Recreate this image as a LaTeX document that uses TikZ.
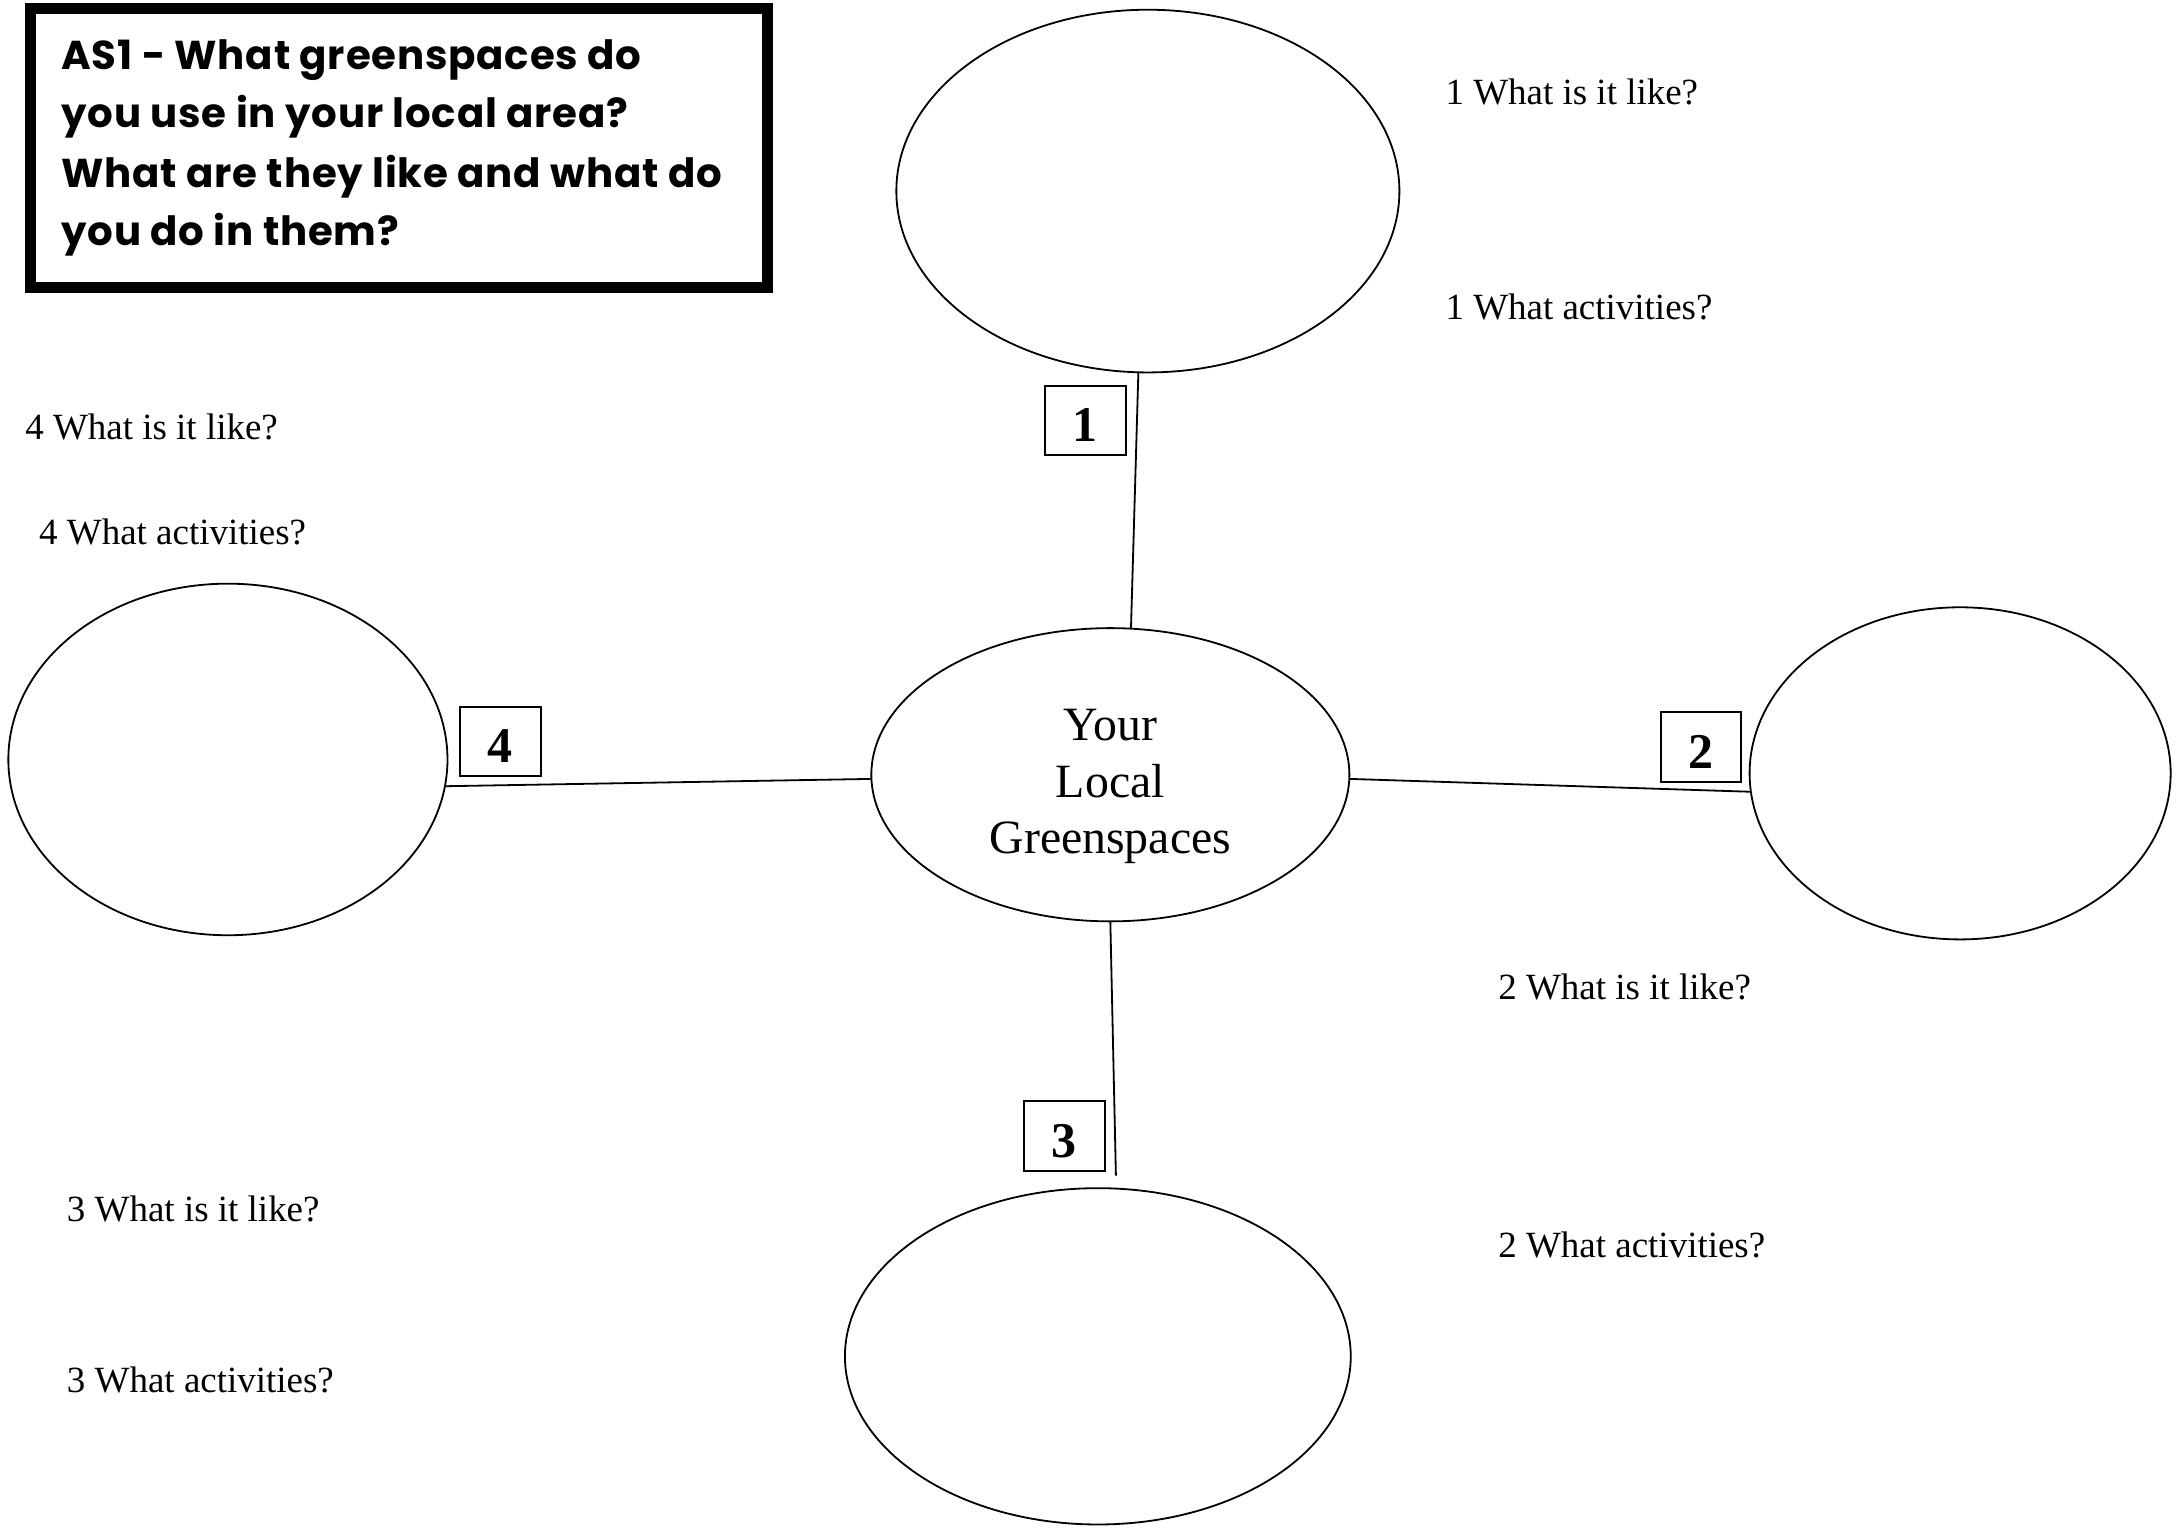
\documentclass[tikz,border=0pt]{standalone}
\usepackage{fontspec}
\setmainfont{Liberation Serif}
\newfontfamily\titlefont{Poppins}[LetterSpace=2]
\usetikzlibrary{shapes.geometric,calc}

\tikzset{
  space/.style={draw, ellipse, line width=1.3pt, inner sep=0pt},
  numbox/.style={draw, line width=1.5pt, minimum width=58pt, minimum height=50pt,
    inner sep=0pt, text height=31pt, text depth=0pt,
    font=\fontsize{36}{40}\selectfont\bfseries},
  prompt/.style={anchor=base west, inner sep=0pt, font=\fontsize{26.6}{30}\selectfont},
  titleline/.style={anchor=base west, inner sep=0pt, font=\titlefont\bfseries\fontsize{29}{33}\selectfont},
  link/.style={line width=1.3pt}
}

\begin{document}
\begin{tikzpicture}[x=1pt,y=-1pt]
\useasboundingbox[fill=white] (0,0) rectangle (1568,1099);

% heading panel
\draw[line width=8pt] (22,6) rectangle (552,207);
\node[titleline] (h1) at (44,50) {AS1 - What greenspaces do};
\node[titleline] (h2) at (44,92) {you use in your local area?};
\node[titleline] (h3) at (44,135) {What are they like and what do};
\node[titleline] (h4) at (44,177) {you do in them?};

% the hub and the four greenspaces
\node[space, minimum width=344pt, minimum height=211pt] (hub) at (799,557.5) {};
\node[align=center, inner sep=0pt, font=\fontsize{34.4}{40.5}\selectfont] (hublabel) at (799,566) {Your\\Local\\Greenspaces};
\node[space, minimum width=362pt, minimum height=261pt] (g1) at (826,137.5) {};
\node[space, minimum width=303pt, minimum height=239pt] (g2) at (1410.5,556.5) {};
\node[space, minimum width=364pt, minimum height=242pt] (g3) at (790,976) {};
\node[space, minimum width=316pt, minimum height=253pt] (g4) at (164,546.5) {};

% spokes
\coordinate (g3end) at (803,846);
\draw[link] (g1.267) -- (hub.82);
\draw[link] (hub.-1) -- (g2.185);
\draw[link] (hub.south) -- (g3end);
\draw[link] (g4.-7) -- (hub.181);

% numbered tags
\node[numbox] (n1) at (781,302.5) {1};
\node[numbox] (n2) at (1224,537.5) {2};
\node[numbox] (n3) at (766,817.5) {3};
\node[numbox] (n4) at (360,533.5) {4};

% prompts
\node[prompt] (q1a) at (1040,75) {1 What is it like?};
\node[prompt] (q1b) at (1040,230) {1 What activities?};
\node[prompt] (q2a) at (1078,719) {2 What is it like?};
\node[prompt] (q2b) at (1078,905) {2 What activities?};
\node[prompt] (q3a) at (48,879) {3 What is it like?};
\node[prompt] (q3b) at (48,1002) {3 What activities?};
\node[prompt] (q4a) at (18,316) {4 What is it like?};
\node[prompt] (q4b) at (28,392) {4 What activities?};
\end{tikzpicture}
\end{document}
